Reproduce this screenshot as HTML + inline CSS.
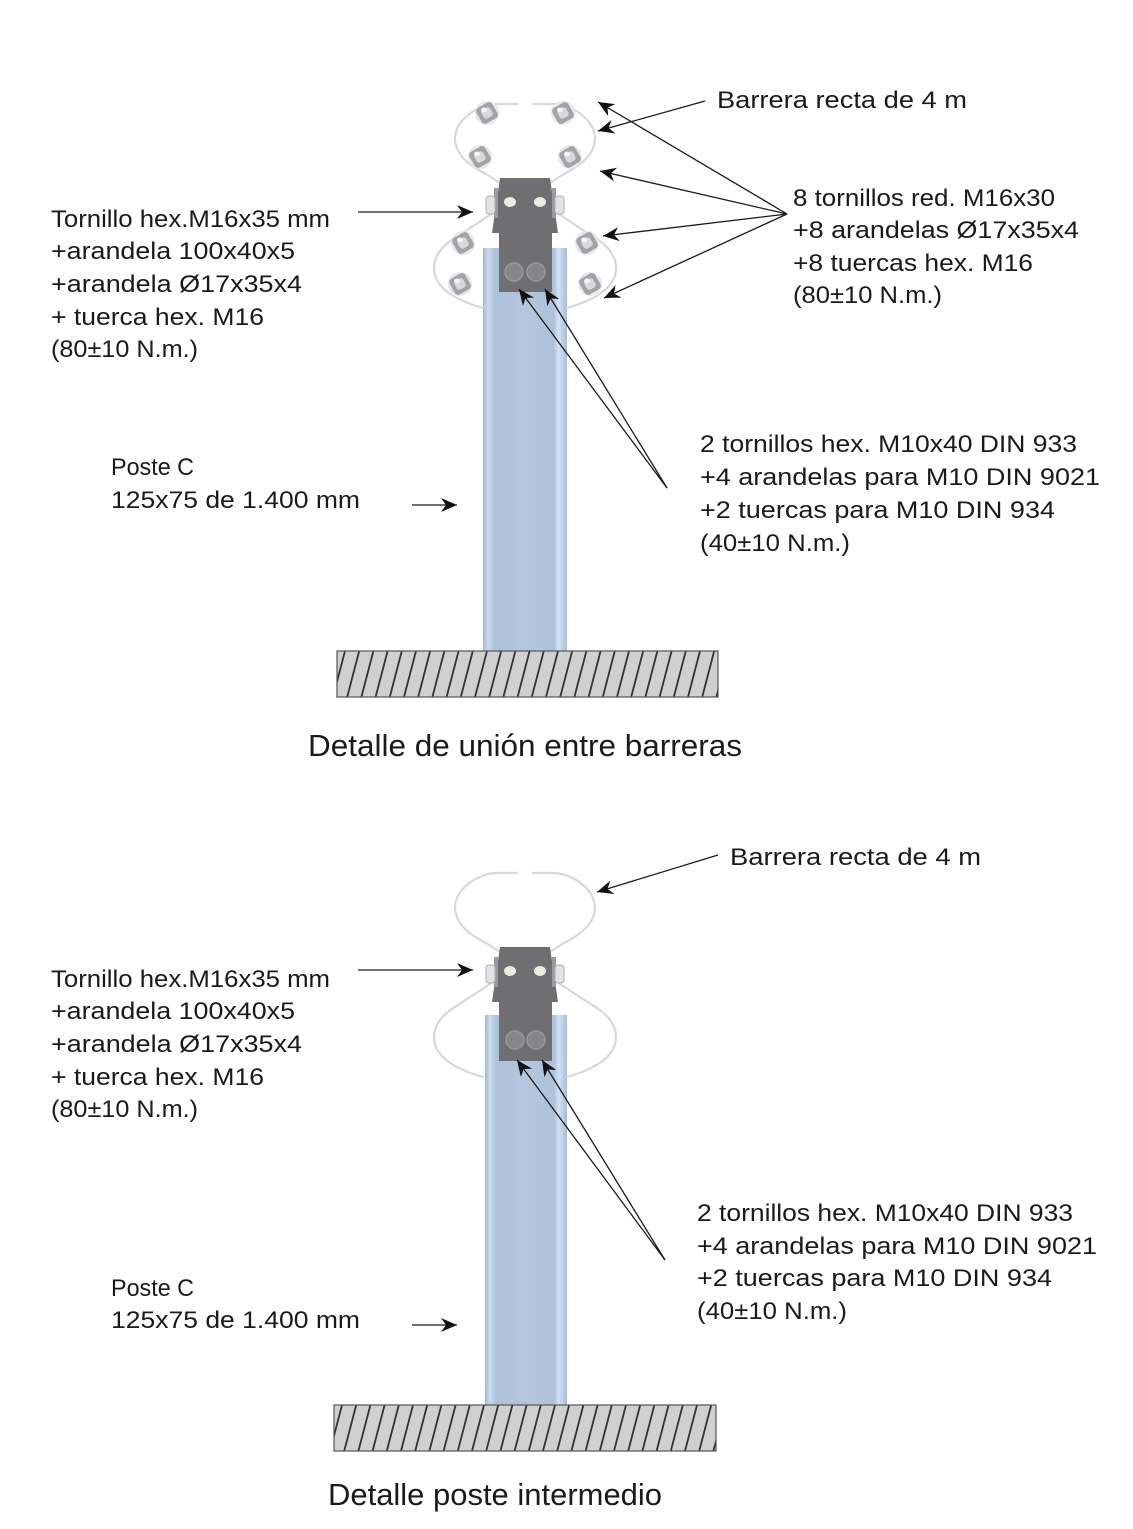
<!DOCTYPE html>
<html>
<head>
<meta charset="utf-8">
<style>
  html,body{margin:0;padding:0;background:#fff;}
  svg{display:block;}
  text{font-family:"Liberation Sans", sans-serif; fill:#1a1a1a;}
  .t{font-size:24px;}
  .h{font-size:31px;}
</style>
</head>
<body>
<svg width="1133" height="1529" viewBox="0 0 1133 1529" xmlns="http://www.w3.org/2000/svg">
  <defs>
    <marker id="ah" markerUnits="userSpaceOnUse" markerWidth="18" markerHeight="16" refX="16" refY="7" orient="auto">
      <path d="M0,0 L16,7 L0,14 L5,7 Z" fill="#111"/>
    </marker>
    <linearGradient id="post" x1="0" y1="0" x2="1" y2="0">
      <stop offset="0" stop-color="#a3b7cf"/>
      <stop offset="0.06" stop-color="#cadbf0"/>
      <stop offset="0.14" stop-color="#adc1da"/>
      <stop offset="0.5" stop-color="#b5c7de"/>
      <stop offset="0.84" stop-color="#adc1da"/>
      <stop offset="0.9" stop-color="#d2e3f7"/>
      <stop offset="1" stop-color="#a7bbd3"/>
    </linearGradient>
    <clipPath id="g1"><rect x="337" y="651" width="381" height="46"/></clipPath>
    <clipPath id="g2"><rect x="334" y="1405" width="382" height="46"/></clipPath>
    <g id="nut">
      <ellipse cx="0" cy="0" rx="12" ry="12" fill="#e8e8ec"/>
      <rect x="-9" y="-9" width="18" height="18" rx="4" fill="#a2a2a7" transform="rotate(-30)"/>
      <rect x="-5" y="-5" width="10" height="10" rx="3" fill="#d8d8dc" transform="rotate(-30)"/>
      <ellipse cx="-3" cy="-3" rx="3" ry="2.5" fill="#f4f4f6"/>
    </g>
    <g id="head">
      <g fill="none" stroke="#d8d8da" stroke-width="2.2" stroke-linecap="round">
        <path d="M517,104 L497,104 C480,104 456,118 455,138 C455,155 470,166 486,174 L500,183"/>
        <path d="M533,104 L553,104 C570,104 594,118 595,138 C595,155 580,166 564,174 L550,183"/>
        <path d="M494,212 C480,222 470,228 458,236 C440,246 434,258 434,268 C434,288 455,300 483,308"/>
        <path d="M556,212 C570,222 580,228 592,236 C610,246 616,258 616,268 C616,288 595,300 567,308"/>
      </g>
      <polygon points="500,178 550,178 558,233 552,233 552,292 499,292 499,233 492,233" fill="#6f6f71"/>
      <rect x="494" y="188" width="4" height="30" fill="#9a9a9e"/>
      <rect x="552" y="188" width="4" height="30" fill="#9a9a9e"/>
      <rect x="486" y="196" width="9" height="18" rx="3" fill="#e2e2e6" stroke="#b0b0b4" stroke-width="1"/>
      <rect x="555" y="196" width="9" height="18" rx="3" fill="#e2e2e6" stroke="#b0b0b4" stroke-width="1"/>
      <ellipse cx="510" cy="202" rx="6" ry="5" fill="#eeeae4"/>
      <ellipse cx="540" cy="202" rx="6" ry="5" fill="#eeeae4"/>
    </g>
  </defs>

  <rect x="0" y="0" width="1133" height="1529" fill="#fff"/>

  <!-- ============ SECTION 1 ============ -->
  <rect x="483" y="248" width="84" height="403" fill="url(#post)"/>
  <use href="#head"/>
  <circle cx="514" cy="272" r="9" fill="#85878b" stroke="#95979b" stroke-width="1.5"/>
  <circle cx="536" cy="272" r="9" fill="#85878b" stroke="#95979b" stroke-width="1.5"/>
  <use href="#nut" x="487" y="113"/>
  <use href="#nut" x="563" y="113"/>
  <use href="#nut" x="480" y="157"/>
  <use href="#nut" x="570" y="157"/>
  <use href="#nut" x="463" y="243"/>
  <use href="#nut" x="587" y="243"/>
  <use href="#nut" x="460" y="284"/>
  <use href="#nut" x="590" y="284"/>

  <!-- ground 1 -->
  <rect x="337" y="651" width="381" height="46" fill="#d0d0d0"/>
  <g clip-path="url(#g1)" stroke="#333" stroke-width="1.8">
    <path d="M345,651 l-12,46 M359.2,651 l-12,46 M373.4,651 l-12,46 M387.6,651 l-12,46 M401.8,651 l-12,46 M416,651 l-12,46 M430.2,651 l-12,46 M444.4,651 l-12,46 M458.6,651 l-12,46 M472.8,651 l-12,46 M487,651 l-12,46 M501.2,651 l-12,46 M515.4,651 l-12,46 M529.6,651 l-12,46 M543.8,651 l-12,46 M558,651 l-12,46 M572.2,651 l-12,46 M586.4,651 l-12,46 M600.6,651 l-12,46 M614.8,651 l-12,46 M629,651 l-12,46 M643.2,651 l-12,46 M657.4,651 l-12,46 M671.6,651 l-12,46 M685.8,651 l-12,46 M700,651 l-12,46 M714.2,651 l-12,46 M728.4,651 l-12,46"/>
  </g>
  <rect x="337" y="651" width="381" height="46" fill="none" stroke="#555" stroke-width="1.2"/>

  <g stroke="#1a1a1a" stroke-width="1.3" fill="none" marker-end="url(#ah)">
    <line x1="358" y1="212" x2="473" y2="212"/>
    <line x1="412" y1="505" x2="457" y2="505"/>
    <line x1="705" y1="101" x2="598" y2="131"/>
    <line x1="787" y1="214" x2="598" y2="102"/>
    <line x1="787" y1="214" x2="600" y2="171"/>
    <line x1="787" y1="214" x2="603" y2="236"/>
    <line x1="787" y1="214" x2="604" y2="298"/>
    <line x1="667" y1="488" x2="519" y2="289"/>
    <line x1="667" y1="488" x2="545" y2="289"/>
  </g>

  <text class="t" x="51" y="227" textLength="279" lengthAdjust="spacingAndGlyphs">Tornillo hex.M16x35 mm</text>
  <text class="t" x="51" y="259" textLength="244" lengthAdjust="spacingAndGlyphs">+arandela 100x40x5</text>
  <text class="t" x="51" y="292" textLength="251" lengthAdjust="spacingAndGlyphs">+arandela Ø17x35x4</text>
  <text class="t" x="51" y="325" textLength="213" lengthAdjust="spacingAndGlyphs">+ tuerca hex. M16</text>
  <text class="t" x="51" y="357" textLength="147" lengthAdjust="spacingAndGlyphs">(80±10 N.m.)</text>

  <text class="t" x="111" y="475" textLength="83" lengthAdjust="spacingAndGlyphs">Poste C</text>
  <text class="t" x="111" y="508" textLength="249" lengthAdjust="spacingAndGlyphs">125x75 de 1.400 mm</text>

  <text class="t" x="717" y="108" textLength="250" lengthAdjust="spacingAndGlyphs">Barrera recta de 4 m</text>
  <text class="t" x="793" y="206" textLength="262" lengthAdjust="spacingAndGlyphs">8 tornillos red. M16x30</text>
  <text class="t" x="793" y="238" textLength="286" lengthAdjust="spacingAndGlyphs">+8 arandelas Ø17x35x4</text>
  <text class="t" x="793" y="271" textLength="240" lengthAdjust="spacingAndGlyphs">+8 tuercas hex. M16</text>
  <text class="t" x="793" y="303" textLength="149" lengthAdjust="spacingAndGlyphs">(80±10 N.m.)</text>

  <text class="t" x="700" y="452" textLength="377" lengthAdjust="spacingAndGlyphs">2 tornillos hex. M10x40 DIN 933</text>
  <text class="t" x="700" y="485" textLength="400" lengthAdjust="spacingAndGlyphs">+4 arandelas para M10 DIN 9021</text>
  <text class="t" x="700" y="518" textLength="355" lengthAdjust="spacingAndGlyphs">+2 tuercas para M10 DIN 934</text>
  <text class="t" x="700" y="551" textLength="150" lengthAdjust="spacingAndGlyphs">(40±10 N.m.)</text>

  <text class="h" x="308" y="756" textLength="434" lengthAdjust="spacingAndGlyphs">Detalle de unión entre barreras</text>

  <!-- ============ SECTION 2 ============ -->
  <rect x="485" y="1015" width="82" height="390" fill="url(#post)"/>
  <use href="#head" y="769"/>
  <circle cx="515" cy="1040" r="9" fill="#85878b" stroke="#95979b" stroke-width="1.5"/>
  <circle cx="536" cy="1040" r="9" fill="#85878b" stroke="#95979b" stroke-width="1.5"/>

  <rect x="334" y="1405" width="382" height="46" fill="#d0d0d0"/>
  <g clip-path="url(#g2)" stroke="#333" stroke-width="1.8">
    <path d="M342,1405 l-12,46 M356.2,1405 l-12,46 M370.4,1405 l-12,46 M384.6,1405 l-12,46 M398.8,1405 l-12,46 M413,1405 l-12,46 M427.2,1405 l-12,46 M441.4,1405 l-12,46 M455.6,1405 l-12,46 M469.8,1405 l-12,46 M484,1405 l-12,46 M498.2,1405 l-12,46 M512.4,1405 l-12,46 M526.6,1405 l-12,46 M540.8,1405 l-12,46 M555,1405 l-12,46 M569.2,1405 l-12,46 M583.4,1405 l-12,46 M597.6,1405 l-12,46 M611.8,1405 l-12,46 M626,1405 l-12,46 M640.2,1405 l-12,46 M654.4,1405 l-12,46 M668.6,1405 l-12,46 M682.8,1405 l-12,46 M697,1405 l-12,46 M711.2,1405 l-12,46 M725.4,1405 l-12,46"/>
  </g>
  <rect x="334" y="1405" width="382" height="46" fill="none" stroke="#555" stroke-width="1.2"/>

  <g stroke="#1a1a1a" stroke-width="1.3" fill="none" marker-end="url(#ah)">
    <line x1="358" y1="970" x2="473" y2="970"/>
    <line x1="412" y1="1325" x2="457" y2="1325"/>
    <line x1="718" y1="855" x2="597" y2="892"/>
    <line x1="665" y1="1260" x2="517" y2="1060"/>
    <line x1="665" y1="1260" x2="542" y2="1060"/>
  </g>

  <text class="t" x="730" y="865" textLength="251" lengthAdjust="spacingAndGlyphs">Barrera recta de 4 m</text>

  <text class="t" x="51" y="987" textLength="279" lengthAdjust="spacingAndGlyphs">Tornillo hex.M16x35 mm</text>
  <text class="t" x="51" y="1019" textLength="244" lengthAdjust="spacingAndGlyphs">+arandela 100x40x5</text>
  <text class="t" x="51" y="1052" textLength="251" lengthAdjust="spacingAndGlyphs">+arandela Ø17x35x4</text>
  <text class="t" x="51" y="1085" textLength="213" lengthAdjust="spacingAndGlyphs">+ tuerca hex. M16</text>
  <text class="t" x="51" y="1117" textLength="147" lengthAdjust="spacingAndGlyphs">(80±10 N.m.)</text>

  <text class="t" x="111" y="1296" textLength="83" lengthAdjust="spacingAndGlyphs">Poste C</text>
  <text class="t" x="111" y="1328" textLength="249" lengthAdjust="spacingAndGlyphs">125x75 de 1.400 mm</text>

  <text class="t" x="697" y="1221" textLength="376" lengthAdjust="spacingAndGlyphs">2 tornillos hex. M10x40 DIN 933</text>
  <text class="t" x="697" y="1254" textLength="400" lengthAdjust="spacingAndGlyphs">+4 arandelas para M10 DIN 9021</text>
  <text class="t" x="697" y="1286" textLength="355" lengthAdjust="spacingAndGlyphs">+2 tuercas para M10 DIN 934</text>
  <text class="t" x="697" y="1319" textLength="150" lengthAdjust="spacingAndGlyphs">(40±10 N.m.)</text>

  <text class="h" x="328" y="1505" textLength="334" lengthAdjust="spacingAndGlyphs">Detalle poste intermedio</text>
</svg>
</body>
</html>
